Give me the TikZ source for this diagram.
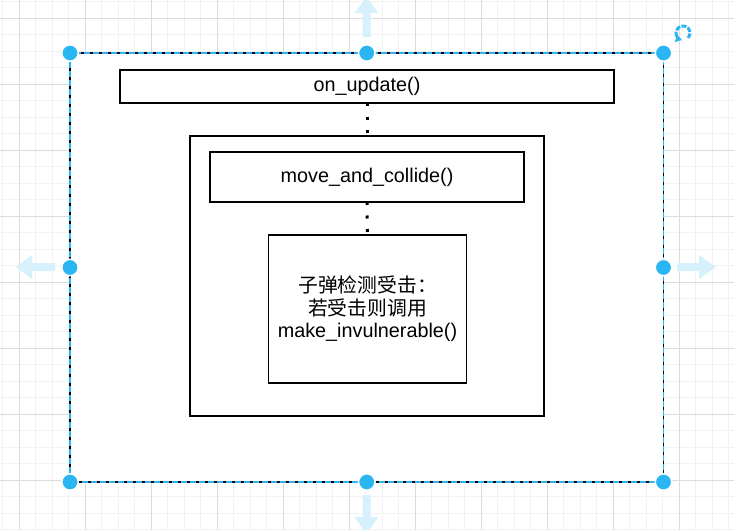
\documentclass[tikz,border=0pt]{standalone}
\usepackage{fontspec}
\setmainfont{Liberation Sans}
\newfontfamily\cjk{Noto Sans CJK SC}
\usetikzlibrary{arrows.meta}
\definecolor{handle}{RGB}{41,182,242}
\definecolor{ghost}{RGB}{214,240,252}
\definecolor{gridminor}{RGB}{242,242,242}
\definecolor{gridmajor}{RGB}{220,220,220}
\begin{document}
\begin{tikzpicture}[x=1pt,y=-1pt,
  boxshape/.style={draw=black, fill=white, line width=1.6pt, inner sep=0pt, outer sep=0pt,
    font=\fontsize{19.8}{22.5}\selectfont, align=center},
  dotline/.style={line width=3pt, dash pattern=on 3pt off 10.5pt},
  handlept/.style={circle, fill=handle, draw=white, line width=1.5pt, minimum size=16.5pt, inner sep=0pt},
  ghostarrow/.style={fill=ghost, draw=none}]
\useasboundingbox (0,0) rectangle (734,530);
\fill[white] (0,0) rectangle (734,530);
% grid
\foreach \i in {0,...,44} {
  \draw[gridminor, line width=1pt] ({2.8+16.5*\i},0) -- ({2.8+16.5*\i},530);
}
\foreach \i in {0,...,32} {
  \draw[gridminor, line width=1pt] (0,{1.8+16.5*\i}) -- (734,{1.8+16.5*\i});
}
\foreach \i in {0,...,11} {
  \draw[gridmajor, line width=1pt] ({19.3+66*\i},0) -- ({19.3+66*\i},530);
}
\foreach \i in {0,...,8} {
  \draw[gridmajor, line width=1pt] (0,{18.3+66*\i}) -- (734,{18.3+66*\i});
}
% outer container
\node[boxshape, minimum width=593.5pt, minimum height=429pt] (outer) at (366.75,267.5) {};
\draw[handle, line width=1.8pt, dash pattern=on 6pt off 3pt] (outer.north west) rectangle (outer.south east);
% inner shapes
\node[boxshape, minimum width=494pt, minimum height=33pt] (top) at (367,86.5) {on\_update()};
\node[boxshape, minimum width=354pt, minimum height=280pt] (mid) at (367,276) {};
\node[boxshape, minimum width=314pt, minimum height=50pt] (move) at (367,177) {move\_and\_collide()};
\node[boxshape, minimum width=198pt, minimum height=148pt] (inner) at (367.5,309)
  {{\cjk 子弹检测受击：}\\{\cjk 若受击则调用}\\make\_invulnerable()};
\draw[dotline] (top.south) -- (mid.north);
\draw[dotline] (move.south) -- (inner.north);
% hover arrows
\fill[ghostarrow] (366.5,-3) -- (378.5,13) -- (370.5,13) -- (370.5,37) -- (362.5,37) -- (362.5,13) -- (354.5,13) -- cycle;
\fill[ghostarrow] (366.5,534) -- (378.5,517) -- (370.5,517) -- (370.5,495) -- (362.5,495) -- (362.5,517) -- (354.5,517) -- cycle;
\fill[ghostarrow] (16,267) -- (32,255) -- (32,263) -- (55,263) -- (55,271) -- (32,271) -- (32,279) -- cycle;
\fill[ghostarrow] (716,267) -- (699,255) -- (699,263) -- (677,263) -- (677,271) -- (699,271) -- (699,279) -- cycle;
% handles
\foreach \a/\n in {north west/h1, north/h2, north east/h3, west/h4, east/h5, south west/h6, south/h7, south east/h8} {
  \node[handlept] (\n) at (outer.\a) {};
}
% rotation icon
\coordinate (rot) at (683,33);
\draw[handle, line width=3pt, dash pattern=on 5pt off 1.5pt, -{Triangle[length=5.5pt,width=8pt]}] (rot) ++(45:7) arc (45:-255:7);
\end{tikzpicture}
\end{document}
